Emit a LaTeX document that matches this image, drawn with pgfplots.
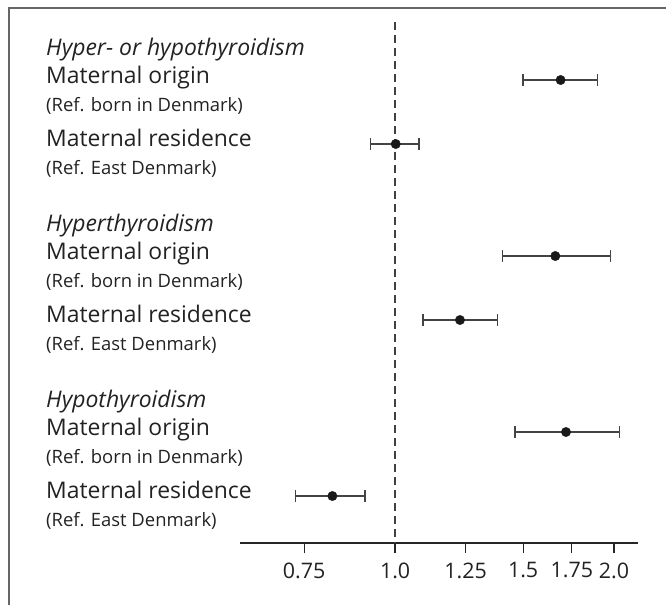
\documentclass[border=0pt]{standalone}
\usepackage{pgfplots}
\pgfplotsset{compat=1.18}
\usepackage{fontspec}
\setmainfont{Open Sans}
\definecolor{txt}{HTML}{222222}
\definecolor{bar}{HTML}{444444}
\definecolor{frame}{HTML}{666666}
\newcommand{\bigf}{\fontsize{23}{26}\selectfont}
\newcommand{\tickf}{\fontsize{21.5}{24}\selectfont}
\newcommand{\smallf}{\fontsize{18.5}{21}\selectfont}
\begin{document}
\begin{tikzpicture}[x=1bp,y=-1bp]
\useasboundingbox (0,0) rectangle (666,605);
\draw[frame, line width=1.3bp] (9,606) -- (9,8) -- (667,8);
% labels
\foreach \g/\h in {0/{Hyper- or hypothyroidism},176/{Hyperthyroidism},352/{Hypothyroidism}}{
  \node[anchor=mid west, inner sep=0, text=txt, font=\bigf\itshape] at (46,{53+\g}) {\h};
  \node[anchor=mid west, inner sep=0, text=txt, font=\bigf] at (46,{81+\g}) {Maternal origin};
  \node[anchor=mid west, inner sep=0, text=txt, font=\smallf] at (46,{109+\g}) {(Ref. born in Denmark)};
  \node[anchor=mid west, inner sep=0, text=txt, font=\bigf] at (46,{144+\g}) {Maternal residence};
  \node[anchor=mid west, inner sep=0, text=txt, font=\smallf] at (46,{172+\g}) {(Ref. East Denmark)};
}
\begin{axis}[
  at={(240bp,-543bp)}, anchor=south west,
  scale only axis, width=398bp, height=535bp,
  xmode=log, xmin=0.612, xmax=2.158,
  ymin=8, ymax=543, y dir=reverse,
  axis x line=bottom, axis y line=none,
  axis line style={-, line width=1.2bp, color=black!85},
  xtick={0.75,1,1.25,1.5,1.75,2},
  xticklabels={0.75,1.0,1.25,1.5,1.75,2.0},
  minor xtick={}, tick align=outside, major tick length=10bp,
  xtick style={line width=1.2bp, color=black!85},
  xticklabel style={font=\tickf, text=txt, yshift=-6bp},
  /pgf/number format/assume math mode=true,
  clip=false,
]
\draw[black!75, line width=1.3bp, dash pattern=on 8bp off 5bp] (axis cs:1,22) -- (axis cs:1,543);
% confidence intervals
\pgfplotsset{ci/.style={bar, line width=1.3bp, mark=|, mark size=6bp, mark options={line width=1.3bp}}}
\addplot[ci] coordinates {(1.50,80) (1.897,80)};
\addplot[ci] coordinates {(0.926,144) (1.079,144)};
\addplot[ci] coordinates {(1.406,256) (1.979,256)};
\addplot[ci] coordinates {(1.092,320) (1.384,320)};
\addplot[ci] coordinates {(1.462,432) (2.034,432)};
\addplot[ci] coordinates {(0.730,496) (0.909,496)};
% estimates
\addplot[only marks, mark=*, mark size=4.7bp, color=black!90] coordinates {
(1.689,80) (1.002,144) (1.661,256) (1.228,320) (1.718,432) (0.820,496)};
\end{axis}
\end{tikzpicture}
\end{document}
